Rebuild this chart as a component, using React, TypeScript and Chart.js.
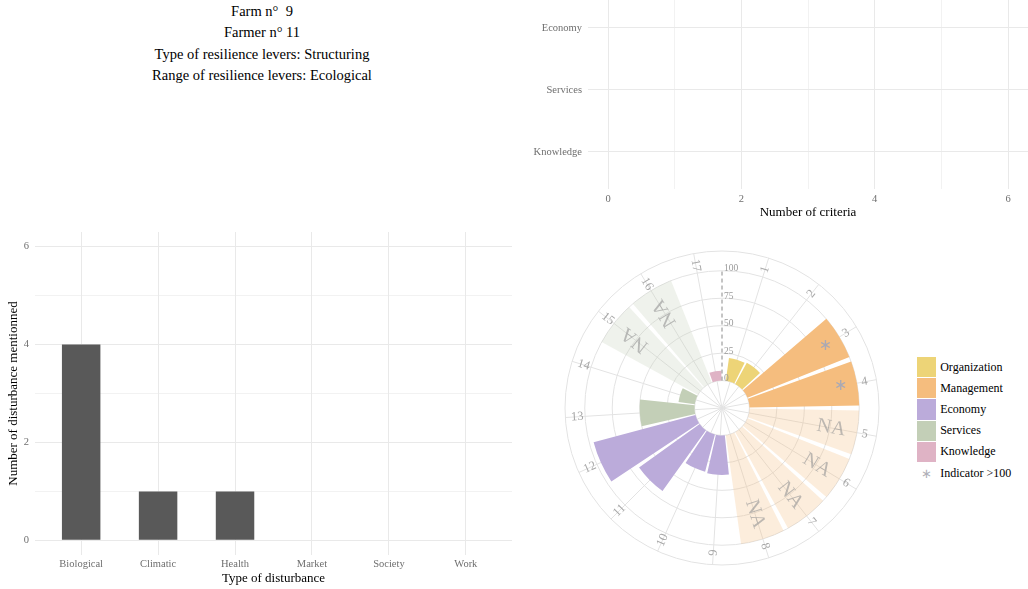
import React, { useEffect, useRef } from 'react';
import { Chart, registerables } from 'chart.js';

Chart.register(...registerables);

const FONT = "'Liberation Serif', 'Times New Roman', serif";
Chart.defaults.font.family = FONT;

// ---------- Header text ----------
const titleLines = [
  'Farm n°  9',
  'Farmer n° 11',
  'Type of resilience levers: Structuring',
  'Range of resilience levers: Ecological',
];

// ---------- Top-right: number of criteria ----------
const criteriaCategories = ['Economy', 'Services', 'Knowledge'];
const criteriaCounts = [0, 0, 0];
const criteriaTicks = [0, 1, 2, 3, 4, 5, 6];

// ---------- Bottom-left: disturbances ----------
const disturbanceTypes = ['Biological', 'Climatic', 'Health', 'Market', 'Society', 'Work'];
const disturbanceCounts = [4, 1, 1, 0, 0, 0];
const disturbanceTicks = [0, 1, 2, 3, 4, 5, 6];

// ---------- Bottom-right: circular indicator plot ----------
const indicatorLabels = ['1', '2', '3', '4', '5', '6', '7', '8', '9', '10', '11', '12', '13', '14', '15', '16', '17'];
const indicatorGroups = [
  'Organization', 'Organization',
  'Management', 'Management', 'Management', 'Management', 'Management', 'Management',
  'Economy', 'Economy', 'Economy', 'Economy',
  'Services', 'Services', 'Services', 'Services',
  'Knowledge',
];
// null = NA ; values above 100 are shown capped at 100 and flagged
const indicatorScores: (number | null)[] = [21, 22, 100, 100, null, null, null, null, 36, 35, 68, 96, 50, 15, null, null, 9];
const indicatorAbove100 = [false, false, true, true, false, false, false, false, false, false, false, false, false, false, false, false, false];
const polarGridValues = [-25, 0, 25, 50, 75, 100, 118];
const polarScaleLabels = [0, 25, 50, 75, 100];
const naDisplayValue = 100;

const groupNames = ['Organization', 'Management', 'Economy', 'Services', 'Knowledge'];

// ---------- styles ----------
const groupColors = ['#EDD477', '#F5BD7E', '#BBABDA', '#C3CFB7', '#DFB3C5'];
const GRID = '#e9e9e9';
const TICK = '#6e6e6e';
const BAR_GREY = '#595959';
const POLAR_GRID = '#e3e3e3';
const SLOT_ANGLE = 20.77;
const POLAR_START = 6.9;
const BAR_FILL = 0.9;
const LABEL_VALUE = 107;
const NA_TEXT_VALUE = 76;
const STAR_VALUE = 85;

function hexToRgba(hex: string, a: number) {
  const n = parseInt(hex.slice(1), 16);
  return `rgba(${(n >> 16) & 255},${(n >> 8) & 255},${n & 255},${a})`;
}

function useChart(build: (c: HTMLCanvasElement) => Chart) {
  const ref = useRef<HTMLCanvasElement | null>(null);
  useEffect(() => {
    if (!ref.current) return;
    const chart = build(ref.current);
    return () => chart.destroy();
  }, []);
  return ref;
}

const noPad = (s: any) => {
  s.paddingTop = 0;
  s.paddingBottom = 0;
  s.paddingLeft = 0;
  s.paddingRight = 0;
};

function CriteriaChart() {
  const ref = useChart((c) =>
    new Chart(c, {
      type: 'bar',
      data: {
        datasets: [{ data: criteriaCounts.map((v, i) => ({ x: v, y: i })), backgroundColor: BAR_GREY, barPercentage: 0.5, categoryPercentage: 1 }],
      },
      options: {
        indexAxis: 'y',
        animation: false,
        responsive: false,
        events: [],
        layout: { padding: 0 },
        plugins: { legend: { display: false }, tooltip: { enabled: false } },
        scales: {
          x: {
            type: 'linear',
            min: -0.3,
            max: 6.3,
            afterBuildTicks: (s: any) => { s.ticks = criteriaTicks.map((v) => ({ value: v })); },
            afterFit: (s: any) => { s.height = 36; noPad(s); },
            ticks: {
              autoSkip: false, maxRotation: 0, padding: 4, color: TICK, font: { size: 10.5 },
              callback: (v: any) => (Number(v) % 2 === 0 ? String(v) : ''),
            },
            grid: { offset: false, color: GRID, drawTicks: false, lineWidth: (ctx: any) => (ctx.tick && ctx.tick.value % 2 ? 0.6 : 1) },
            border: { display: false },
            title: { display: true, text: 'Number of criteria', color: '#000', font: { size: 13 }, padding: { top: 0, bottom: 5 } },
          },
          y: {
            type: 'linear',
            reverse: true,
            offset: false,
            min: -0.45,
            max: 2.6,
            afterBuildTicks: (s: any) => { s.ticks = criteriaCategories.map((_, i) => ({ value: i })); },
            afterFit: (s: any) => { s.width = 58; noPad(s); },
            ticks: { autoSkip: false, padding: 6, color: TICK, font: { size: 10.5 }, callback: (v: any) => criteriaCategories[Number(v)] },
            grid: { offset: false, color: GRID, drawTicks: false },
            border: { display: false },
          },
        },
      },
    } as any)
  );
  return <canvas ref={ref} width={498} height={225} style={{ position: 'absolute', left: 530, top: 0, display: 'block' }} />;
}

function DisturbanceChart() {
  const ref = useChart((c) =>
    new Chart(c, {
      type: 'bar',
      data: {
        datasets: [{ data: disturbanceCounts.map((v, i) => ({ x: i, y: v })), backgroundColor: BAR_GREY, barPercentage: 0.5, categoryPercentage: 1 }],
      },
      options: {
        animation: false,
        responsive: false,
        events: [],
        layout: { padding: { top: 10, right: 13, left: 0, bottom: 0 } },
        plugins: { legend: { display: false }, tooltip: { enabled: false } },
        scales: {
          x: {
            type: 'linear',
            offset: false,
            min: -0.6,
            max: disturbanceTypes.length - 0.4,
            afterBuildTicks: (s: any) => { s.ticks = disturbanceTypes.map((_, i) => ({ value: i })); },
            afterFit: (s: any) => { s.height = 34; noPad(s); },
            ticks: { padding: 3, color: TICK, font: { size: 10.5 }, autoSkip: false, maxRotation: 0, callback: (v: any) => disturbanceTypes[Number(v)] },
            grid: { offset: false, color: GRID, drawTicks: false },
            border: { display: false },
            title: { display: true, text: 'Type of disturbance', color: '#000', font: { size: 13 }, padding: { top: 0, bottom: 3 } },
          },
          y: {
            type: 'linear',
            min: -0.3,
            max: 6.3,
            afterBuildTicks: (s: any) => { s.ticks = disturbanceTicks.map((v) => ({ value: v })); },
            afterFit: (s: any) => { s.width = 35; noPad(s); },
            ticks: {
              autoSkip: false, padding: 6, color: TICK, font: { size: 10.5 },
              callback: (v: any) => (Number(v) % 2 === 0 ? String(v) : ''),
            },
            grid: { color: GRID, drawTicks: false, lineWidth: (ctx: any) => (ctx.tick && ctx.tick.value % 2 ? 0.6 : 1) },
            border: { display: false },
            title: { display: true, text: 'Number of disturbance mentionned', color: '#000', font: { size: 13 }, padding: { top: 6, bottom: 0 } },
          },
        },
      },
    } as any)
  );
  return <canvas ref={ref} width={525} height={367} style={{ position: 'absolute', left: 0, top: 222, display: 'block' }} />;
}

const polarDecor = {
  id: 'polarDecor',
  afterDatasetsUpdate(chart: any) {
    const r = chart.scales.r;
    const inner = r.getDistanceFromCenterForValue(0);
    chart.getDatasetMeta(0).data.forEach((arc: any) => {
      const trim = ((arc.endAngle - arc.startAngle) * (1 - BAR_FILL)) / 2;
      arc.innerRadius = inner;
      arc.startAngle += trim;
      arc.endAngle -= trim;
    });
  },
  beforeDatasetsDraw(chart: any) {
    const r = chart.scales.r;
    const ctx = chart.ctx;
    const cx = r.xCenter, cy = r.yCenter, R = r.drawingArea;
    ctx.save();
    ctx.strokeStyle = POLAR_GRID;
    ctx.lineWidth = 1;
    chart.getDatasetMeta(0).data.forEach((arc: any) => {
      const a = (arc.startAngle + arc.endAngle) / 2;
      ctx.beginPath();
      ctx.moveTo(cx, cy);
      ctx.lineTo(cx + R * Math.cos(a), cy + R * Math.sin(a));
      ctx.stroke();
    });
    ctx.restore();
  },
  afterDatasetsDraw(chart: any) {
    const r = chart.scales.r;
    const ctx = chart.ctx;
    const cx = r.xCenter, cy = r.yCenter;
    const arcs = chart.getDatasetMeta(0).data;
    ctx.save();
    // dashed scale line
    ctx.strokeStyle = '#8a8a8a';
    ctx.lineWidth = 1;
    ctx.setLineDash([4, 3]);
    ctx.beginPath();
    ctx.moveTo(cx, cy - r.getDistanceFromCenterForValue(0));
    ctx.lineTo(cx, cy - r.getDistanceFromCenterForValue(100));
    ctx.stroke();
    ctx.setLineDash([]);
    // scale labels
    ctx.fillStyle = '#9a9a9a';
    ctx.font = `9.5px ${FONT}`;
    ctx.textAlign = 'left';
    ctx.textBaseline = 'middle';
    polarScaleLabels.forEach((v) => {
      ctx.fillText(String(v), cx + 2, cy - r.getDistanceFromCenterForValue(v) - 2);
    });
    arcs.forEach((arc: any, i: number) => {
      const a = (arc.startAngle + arc.endAngle) / 2;
      const compass = a + Math.PI / 2; // clockwise from top
      const norm = ((compass % (2 * Math.PI)) + 2 * Math.PI) % (2 * Math.PI);
      // indicator number
      const lr = r.getDistanceFromCenterForValue(LABEL_VALUE);
      ctx.save();
      ctx.translate(cx + lr * Math.cos(a), cy + lr * Math.sin(a));
      ctx.rotate(norm > Math.PI ? a + Math.PI : a);
      ctx.fillStyle = '#a8a8a8';
      ctx.font = `12.5px ${FONT}`;
      ctx.textAlign = 'center';
      ctx.textBaseline = 'middle';
      ctx.fillText(indicatorLabels[i], 0, 0);
      ctx.restore();
      // NA text
      if (indicatorScores[i] === null) {
        const nr = r.getDistanceFromCenterForValue(NA_TEXT_VALUE);
        ctx.save();
        ctx.translate(cx + nr * Math.cos(a), cy + nr * Math.sin(a));
        ctx.rotate(a);
        ctx.fillStyle = 'rgba(150,150,150,0.62)';
        ctx.font = `20px ${FONT}`;
        ctx.textAlign = 'center';
        ctx.textBaseline = 'middle';
        ctx.fillText('NA', 0, 0);
        ctx.restore();
      }
      // >100 marker
      if (indicatorAbove100[i]) {
        const sr = r.getDistanceFromCenterForValue(STAR_VALUE);
        ctx.fillStyle = '#a9a9b4';
        ctx.font = `16px 'DejaVu Sans', sans-serif`;
        ctx.textAlign = 'center';
        ctx.textBaseline = 'middle';
        ctx.fillText('\u2217', cx + sr * Math.cos(a), cy + sr * Math.sin(a));
      }
    });
    ctx.restore();
  },
};

function PolarChart() {
  const ref = useChart((c) => {
    const plotted = indicatorScores.map((v) => (v === null ? naDisplayValue : Math.min(v, 100)));
    const colors = indicatorScores.map((v, i) => {
      const base = groupColors[groupNames.indexOf(indicatorGroups[i])];
      return v === null ? hexToRgba(base, 0.27) : base;
    });
    return new Chart(c, {
      type: 'polarArea',
      data: {
        labels: indicatorLabels,
        datasets: [{ data: plotted, backgroundColor: colors, borderWidth: 0, angle: SLOT_ANGLE }],
      },
      options: {
        animation: false,
        responsive: false,
        events: [],
        layout: { padding: 8 },
        plugins: { legend: { display: false }, tooltip: { enabled: false } },
        scales: {
          r: {
            min: -25,
            max: 118,
            startAngle: POLAR_START,
            afterBuildTicks: (s: any) => { s.ticks = polarGridValues.map((v) => ({ value: v })); },
            ticks: { display: false },
            grid: { circular: true, color: POLAR_GRID, lineWidth: 1 },
            angleLines: { display: false },
            pointLabels: { display: false },
          },
        },
      },
      plugins: [polarDecor],
    } as any);
  });
  return <canvas ref={ref} width={330} height={330} style={{ position: 'absolute', left: 557, top: 243, display: 'block' }} />;
}

function Legend() {
  const row: React.CSSProperties = { display: 'flex', alignItems: 'center', height: 21.2 };
  return (
    <div style={{ position: 'absolute', left: 917, top: 356.5, fontSize: 12, color: '#000', fontFamily: FONT }}>
      {groupNames.map((g, i) => (
        <div key={g} style={row}>
          <span style={{ display: 'inline-block', width: 18.7, height: 20.2, background: groupColors[i], marginRight: 4.5 }} />
          <span>{g}</span>
        </div>
      ))}
      <div style={row}>
        <span style={{ display: 'inline-block', width: 18.7, textAlign: 'center', color: '#b0b0b8', marginRight: 4.5, fontFamily: "'DejaVu Sans', sans-serif", fontSize: 13 }}>{'\u2217'}</span>
        <span>Indicator &gt;100</span>
      </div>
    </div>
  );
}

export default function App() {
  return (
    <div style={{ position: 'absolute', left: 0, top: 0, width: 1028, height: 589, overflow: 'hidden', background: '#fff', fontFamily: FONT }}>
      <div style={{ position: 'absolute', left: 62, top: 1, width: 400, textAlign: 'center', fontSize: 14.5, lineHeight: '21.3px', color: '#000' }}>
        {titleLines.map((l) => (
          <div key={l} style={{ whiteSpace: 'pre' }}>{l}</div>
        ))}
      </div>
      <CriteriaChart />
      <DisturbanceChart />
      <PolarChart />
      <Legend />
    </div>
  );
}
